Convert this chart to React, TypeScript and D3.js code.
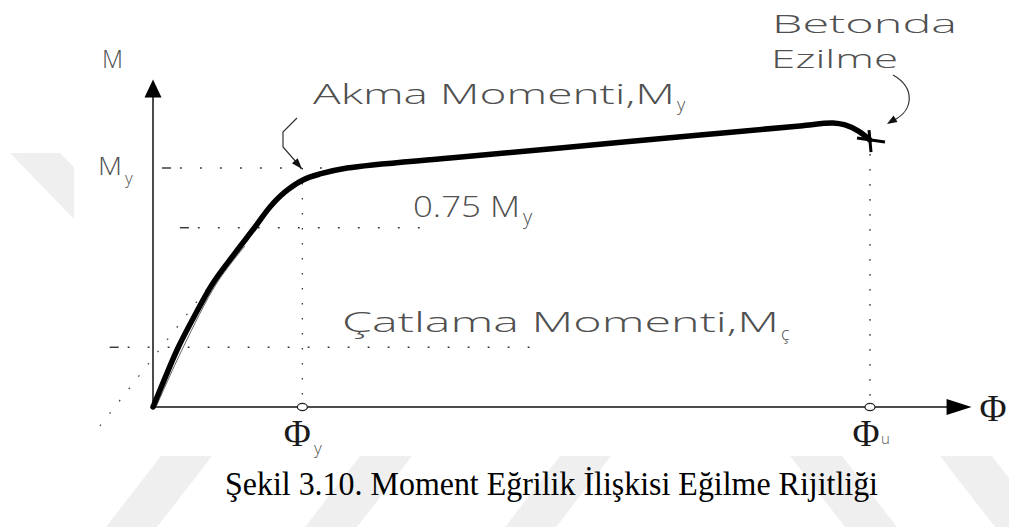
import React from "react";
import * as d3 from "d3";

// Moment–curvature relationship (normalised: My = 1, Φy = 1)
const PHI = [0, 0.08, 0.167, 0.281, 0.402, 0.549, 0.683, 0.783, 0.884, 1.004, 1.118, 1.299, 1.988, 2.725, 3.662, 4.331, 4.552, 4.633, 4.72, 4.8];
const MOMENT = [0, 0.121, 0.247, 0.385, 0.519, 0.644, 0.753, 0.837, 0.9, 0.95, 0.975, 1.0, 1.042, 1.084, 1.138, 1.176, 1.188, 1.18, 1.155, 1.117];

// thin trace along the initial (cracking) branch
const TRACE_PHI = [0.02, 0.2, 0.428, 0.616];
const TRACE_M = [0, 0.247, 0.519, 0.674];

// stiffness reference line (dotted)
const STIFF_PHI = [-0.355, 0.93];
const STIFF_M = [-0.079, 0.95];

// characteristic points
const PHI_Y = 1.0;
const PHI_U = 4.8;
const M_Y = 1.0;
const M_075 = 0.75;
const M_CR = 0.25;
const M_U = 1.117;

// horizontal guide levels with their curvature extents
const GUIDE_LEVELS = [M_Y, M_075, M_CR];
const GUIDE_FROM = [0.06, 0.18, -0.29];
const GUIDE_TO = [1.25, 1.9, 2.54];
const GUIDE_LEAD = [true, true, true];

const AXIS_PHI_MAX = 5.48;
const AXIS_M_MAX = 1.37;

const CAD_FONT = "'Open Sans', 'DejaVu Sans', sans-serif";
const SERIF = "'Liberation Serif', 'Times New Roman', serif";
const TXT = "#505050";

const x = d3.scaleLinear().domain([0, PHI_U]).range([153, 870]);
const y = d3.scaleLinear().domain([0, M_Y]).range([407, 168]);

function arrowHead(tx: number, ty: number, fx: number, fy: number, len: number, half: number) {
  const dx = tx - fx, dy = ty - fy;
  const d = Math.hypot(dx, dy) || 1;
  const ux = dx / d, uy = dy / d;
  const bx = tx - ux * len, by = ty - uy * len;
  return `${tx},${ty} ${bx - uy * half},${by + ux * half} ${bx + uy * half},${by - ux * half}`;
}

export default function App() {
  const line = d3
    .line<[number, number]>()
    .x((d) => x(d[0]))
    .y((d) => y(d[1]))
    .curve(d3.curveCatmullRom.alpha(0.5));

  const curve = line(PHI.map((p, i) => [p, MOMENT[i]] as [number, number])) || "";
  const trace = line(TRACE_PHI.map((p, i) => [p, TRACE_M[i]] as [number, number])) || "";

  const ox = x(0), oy = y(0);
  const yTop = y(AXIS_M_MAX);
  const xEnd = x(AXIS_PHI_MAX);
  const ux = x(PHI_U), uy = y(M_U);

  // watermark stripes
  const stripes: string[] = [
    "161,456 212,456 157,527 106,527",
    "360,456 412,456 357,527 305,527",
    "560,456 611,456 556,527 505,527",
    "790,456 842,456 897,527 845,527",
    "940,456 992,456 1047,527 995,527",
    "10,153 60,153 74,167 74,219",
  ];

  return (
    <svg
      width={1009}
      height={527}
      style={{ position: "absolute", left: 0, top: 0, background: "#fff" }}
    >
      <rect x={0} y={0} width={1009} height={527} fill="#fff" />
      {stripes.map((s, i) => (
        <polygon key={i} points={s} fill="#efefef" />
      ))}

      {/* guide lines */}
      {GUIDE_LEVELS.map((lv, i) => (
        <g key={i}>
          {GUIDE_LEAD[i] && (
            <line
              x1={x(GUIDE_FROM[i])}
              x2={x(GUIDE_FROM[i]) + 9}
              y1={y(lv)}
              y2={y(lv)}
              stroke="#222"
              strokeWidth={1.3}
            />
          )}
          <line
            x1={x(GUIDE_FROM[i]) + 9}
            x2={x(GUIDE_TO[i])}
            y1={y(lv)}
            y2={y(lv)}
            stroke="#333"
            strokeWidth={1.5}
            strokeDasharray="1.8 18.2"
            strokeDashoffset={-9}
          />
        </g>
      ))}
      <line x1={x(PHI_Y)} x2={x(PHI_Y)} y1={y(M_Y)} y2={oy - 4} stroke="#333" strokeWidth={1.3} strokeDasharray="1.6 13.4" />
      <line x1={ux} x2={ux} y1={uy + 14} y2={oy - 4} stroke="#333" strokeWidth={1.3} strokeDasharray="1.6 13.4" />
      <line
        x1={x(STIFF_PHI[0])}
        y1={y(STIFF_M[0])}
        x2={x(STIFF_PHI[1])}
        y2={y(STIFF_M[1])}
        stroke="#444"
        strokeWidth={1.3}
        strokeDasharray="1.6 14"
      />

      {/* axes */}
      <line x1={ox} x2={ox} y1={oy} y2={yTop + 16} stroke="#111" strokeWidth={1.5} />
      <polygon points={arrowHead(ox, yTop, ox, oy, 18, 8.5)} fill="#000" />
      <line x1={ox} x2={xEnd - 22} y1={oy} y2={oy} stroke="#111" strokeWidth={1.5} />
      <polygon points={arrowHead(xEnd, oy, ox, oy, 25, 8)} fill="#000" />

      {/* curve */}
      <path d={trace} fill="none" stroke="#666" strokeWidth={1} />
      <path d={curve} fill="none" stroke="#000" strokeWidth={5.5} strokeLinecap="round" strokeLinejoin="round" />

      {/* crushing mark */}
      <line x1={ux - 13} x2={ux + 15} y1={uy - 2} y2={uy + 2} stroke="#000" strokeWidth={3} />
      <line x1={ux - 1} x2={ux + 1} y1={uy - 10} y2={uy + 12} stroke="#000" strokeWidth={3} />

      {/* curvature markers */}
      <ellipse cx={x(PHI_Y)} cy={oy} rx={5} ry={3.6} fill="#fff" stroke="#222" strokeWidth={1.2} />
      <ellipse cx={ux} cy={oy} rx={5} ry={3.6} fill="#fff" stroke="#222" strokeWidth={1.2} />

      {/* annotation arrows */}
      <polyline points="297,118 283,132 283,147 297,163" fill="none" stroke="#333" strokeWidth={1.2} />
      <polygon points={arrowHead(302, 169, 283, 147, 11, 3.8)} fill="#111" />
      <path d="M893,75 C916,88 913,111 894,120" fill="none" stroke="#333" strokeWidth={1.2} />
      <polygon points={arrowHead(887, 124, 900, 116, 10, 3.8)} fill="#111" />

      {/* CAD style labels */}
      <g fill={TXT} fontFamily={CAD_FONT} fontWeight={300}>
        <text x={102} y={68} fontSize={25} textLength={21} lengthAdjust="spacingAndGlyphs">M</text>
        <text x={98} y={175} fontSize={25} textLength={24} lengthAdjust="spacingAndGlyphs">M</text>
        <text x={125} y={184} fontSize={17}>y</text>
        <text x={313} y={104} fontSize={27} textLength={362} lengthAdjust="spacingAndGlyphs">Akma Momenti,M</text>
        <text x={677} y={111} fontSize={18}>y</text>
        <text x={413} y={217} fontSize={30} textLength={107} lengthAdjust="spacingAndGlyphs">0.75 M</text>
        <text x={523} y={224} fontSize={20}>y</text>
        <text x={342} y={332} fontSize={28} textLength={437} lengthAdjust="spacingAndGlyphs">Çatlama Momenti,M</text>
        <text x={781} y={340} fontSize={18}>ç</text>
        <text x={772} y={33} fontSize={26} textLength={185} lengthAdjust="spacingAndGlyphs">Betonda</text>
        <text x={771} y={68} fontSize={26} textLength={127} lengthAdjust="spacingAndGlyphs">Ezilme</text>
        <text x={314} y={454} fontSize={17}>y</text>
        <text x={881} y={444} fontSize={15}>u</text>
      </g>

      {/* curvature symbols */}
      <g fill="#1a1a1a" fontFamily={SERIF} fontSize={37} textAnchor="middle">
        <text x={x(PHI_Y) - 5} y={446}>Φ</text>
        <text x={ux - 4} y={446}>Φ</text>
        <text x={993} y={421}>Φ</text>
      </g>

      <text
        x={225}
        y={495}
        fontFamily={SERIF}
        fontSize={33}
        fill="#000"
        textLength={653}
        lengthAdjust="spacingAndGlyphs"
      >
        Şekil 3.10. Moment Eğrilik İlişkisi Eğilme Rijitliği
      </text>
    </svg>
  );
}
